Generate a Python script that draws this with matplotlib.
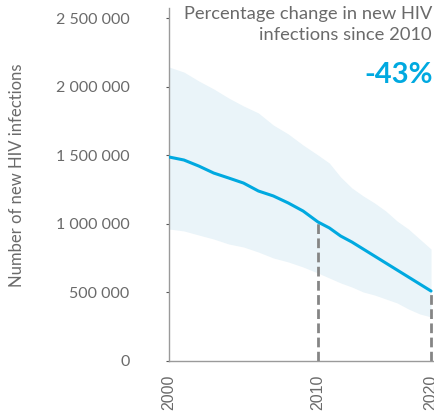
import numpy as np
import matplotlib
matplotlib.use("Agg")
import matplotlib.pyplot as plt
from matplotlib.ticker import FuncFormatter

years = list(range(2000, 2021))
estimate = [1487000, 1465000, 1421000, 1370000, 1334000, 1297000, 1239000, 1203000,
            1152000, 1093000, 1013000, 970000, 911000, 867000, 816000, 765000,
            714000, 663000, 612000, 561000, 510000]
upper = [2143000, 2106000, 2041000, 1983000, 1917000, 1859000, 1808000, 1720000,
         1655000, 1574000, 1501000, 1443000, 1341000, 1261000, 1203000, 1152000,
         1093000, 1020000, 962000, 889000, 816000]
lower = [962000, 948000, 918000, 889000, 853000, 831000, 794000, 751000,
         722000, 685000, 641000, 605000, 569000, 539000, 503000, 481000,
         452000, 423000, 379000, 343000, 321000]
marker_years = [2010, 2020]
xticks = [2000, 2010, 2020]
yticks = [0, 500000, 1000000, 1500000, 2000000, 2500000]
ylabel = "Number of new HIV infections"
note_lines = "Percentage change in new HIV\ninfections since 2010"
note_value = "-43%"

BLUE = "#00a9e0"
BAND = "#eaf4f9"
GREY = "#6a6a6a"
AXIS = "#9a9a9a"
DASH = "#858585"

plt.rcParams["font.family"] = ["Lato", "DejaVu Sans"]

# piecewise axis used by the original: first decade wider than second
def fwd(x):
    x = np.asarray(x, dtype=float)
    return np.where(x <= 2010, (x - 2000) * 14.9, 149 + (x - 2010) * 11.3)

def inv(p):
    p = np.asarray(p, dtype=float)
    return np.where(p <= 149, 2000 + p / 14.9, 2010 + (p - 149) / 11.3)

fig = plt.figure(figsize=(4.35, 4.13), dpi=100)
ax = fig.add_axes([169 / 435, 1 - 361 / 413, (435 - 169) / 435, (361 - 8) / 413])
ax.set_xscale("function", functions=(fwd, inv))
ax.set_xlim(2000, 2020.35)
ax.set_ylim(0, 2573000)

ax.fill_between(years, lower, upper, color=BAND, linewidth=0, zorder=1)
ax.plot(years, estimate, color=BLUE, linewidth=2.2, zorder=3, solid_capstyle="round")
for yr in marker_years:
    v = estimate[years.index(yr)]
    ax.plot([yr, yr], [0, v], color=DASH, linewidth=2.0, linestyle=(0, (3.5, 1.6)), zorder=2)

for s in ["top", "right"]:
    ax.spines[s].set_visible(False)
for s in ["left", "bottom"]:
    ax.spines[s].set_color(AXIS)
    ax.spines[s].set_linewidth(1.0)

ax.set_yticks(yticks)
ax.yaxis.set_major_formatter(FuncFormatter(lambda v, p: f"{int(v):,}".replace(",", " ")))
ax.tick_params(axis="y", length=2.5, width=0.8, color="#555555", pad=26,
               labelsize=11.5, labelcolor=GREY)
ax.set_xticks(xticks)
ax.set_xticklabels([str(x) for x in xticks], rotation=90, family=["Liberation Sans", "DejaVu Sans"])
ax.tick_params(axis="x", length=0, pad=10, labelsize=11.5, labelcolor=GREY)

fig.text(17 / 435, 1 - 175 / 413, ylabel, rotation=90, ha="center", va="center",
         fontsize=12, color=GREY)

fig.text(432 / 435, 1 - 6 / 413, note_lines, ha="right", va="top", fontsize=13.2,
         color=GREY, linespacing=1.35)
fig.text(433 / 435, 1 - 83 / 413, note_value, ha="right", va="baseline", fontsize=21,
         color=BLUE, fontweight="bold")

fig.savefig("out.png", dpi=100)
